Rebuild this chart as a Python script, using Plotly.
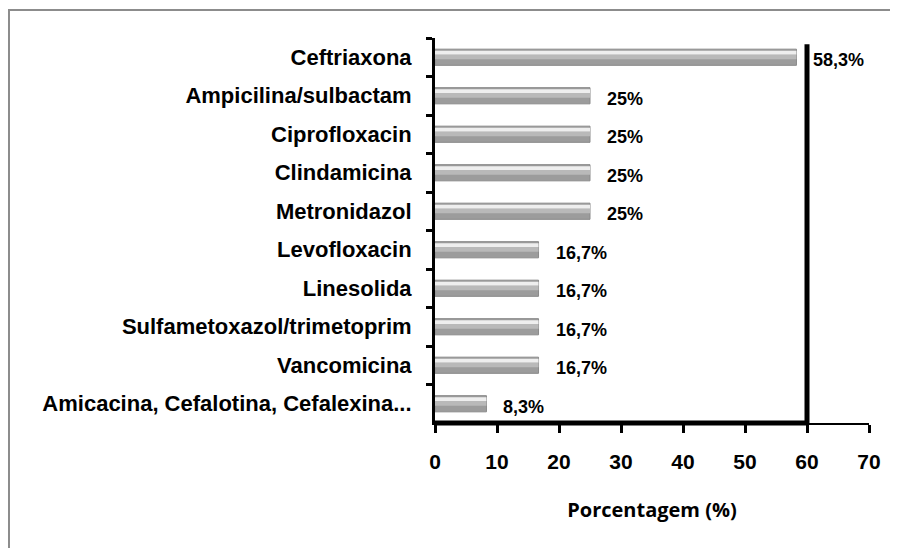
import plotly.graph_objects as go

categories = ["Ceftriaxona", "Ampicilina/sulbactam", "Ciprofloxacin", "Clindamicina",
              "Metronidazol", "Levofloxacin", "Linesolida", "Sulfametoxazol/trimetoprim",
              "Vancomicina", "Amicacina, Cefalotina, Cefalexina..."]
values = [58.3, 25, 25, 25, 25, 16.7, 16.7, 16.7, 16.7, 8.3]
value_labels = ["58,3%", "25%", "25%", "25%", "25%", "16,7%", "16,7%", "16,7%", "16,7%", "8,3%"]
x_ticks = [0, 10, 20, 30, 40, 50, 60, 70]

FONT = "Liberation Sans, Arial, sans-serif"

fig = go.Figure()
# base cylinder body
fig.add_trace(go.Bar(
    y=categories, x=values, orientation="h", width=0.42,
    marker=dict(color="#9c9c9c", line=dict(color="#8a8a8a", width=1)),
    hoverinfo="skip", showlegend=False,
))
# mid-tone band
fig.add_trace(go.Bar(
    y=categories, x=values, orientation="h", width=0.13, offset=-0.08,
    marker=dict(color="#b9b9b9", line=dict(width=0)),
    hoverinfo="skip", showlegend=False,
))
# highlight band (3D look)
fig.add_trace(go.Bar(
    y=categories, x=values, orientation="h", width=0.1, offset=-0.17,
    marker=dict(color="#eeeeee", line=dict(width=0)),
    hoverinfo="skip", showlegend=False,
))
fig.update_layout(barmode="overlay")

for c, v, t in zip(categories, values, value_labels):
    fig.add_annotation(x=v, y=c, text=f"<b>{t}</b>", showarrow=False,
                       xanchor="left", xshift=15, yshift=-3,
                       font=dict(family=FONT, size=18, color="black"))

# thick plot-area border: right side at 60 and bottom from 0 to 60
fig.add_shape(type="line", x0=60, x1=60, xref="x", yref="paper", y0=-0.005, y1=0.984,
              line=dict(color="black", width=5))
fig.add_shape(type="line", x0=0, x1=60, xref="x", yref="paper", y0=0.0, y1=0.0,
              line=dict(color="black", width=5))
# outer border of the chart
fig.add_shape(type="rect", xref="paper", yref="paper", x0=-0.9816, x1=1.1, y0=-0.4, y1=1.0727,
              line=dict(color="#8c8c8c", width=2), layer="below")

fig.update_xaxes(range=[0, 70], tickvals=x_ticks, ticks="outside", ticklen=8, tickwidth=3,
                 tickcolor="black", showline=True, linecolor="black", linewidth=2,
                 showgrid=False, zeroline=False, automargin=False, ticklabelstandoff=11,
                 tickfont=dict(family=FONT, size=21, color="black", weight="bold"),
                 title=dict(text="<b>Porcentagem (%)</b>", standoff=31,
                            font=dict(family="Open Sans, sans-serif", size=20, color="black")))
fig.update_yaxes(categoryorder="array", categoryarray=categories, autorange="reversed",
                 tickson="boundaries", ticks="outside", ticklen=6, tickwidth=3, tickcolor="black",
                 showline=True, linecolor="black", linewidth=3, showgrid=False,
                 ticklabelstandoff=16, automargin=False,
                 tickfont=dict(family=FONT, size=22, color="black", weight="bold"))

fig.update_layout(width=898, height=548, margin=dict(l=427, r=37, t=30, b=133),
                  plot_bgcolor="white", paper_bgcolor="white", bargap=0.6)

fig.write_html("out.html")
